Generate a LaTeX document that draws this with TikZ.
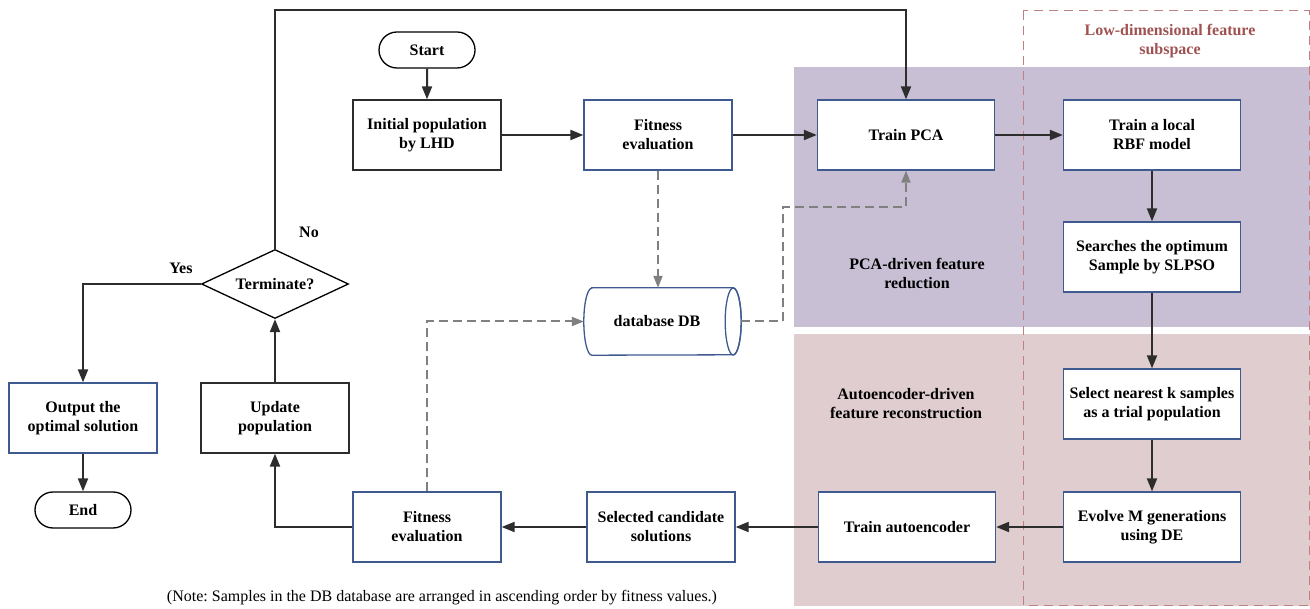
\documentclass[tikz,border=0pt]{standalone}
\usepackage{fontspec}
\setmainfont{Liberation Serif}
\usetikzlibrary{arrows.meta,shapes.geometric,shapes.misc}
\definecolor{pcabg}{RGB}{200,191,212}
\definecolor{aebg}{RGB}{224,205,208}
\definecolor{boxblue}{RGB}{62,90,142}
\definecolor{lowred}{RGB}{190,128,128}
\definecolor{lowtext}{RGB}{160,82,82}
\definecolor{lnk}{RGB}{45,45,45}
\definecolor{dashgray}{RGB}{128,128,128}
\frenchspacing
\begin{document}
\begin{tikzpicture}[x=1pt,y=-1pt,
  font=\bfseries\fontsize{16}{19}\selectfont,
  box/.style={draw=boxblue, line width=1.3pt, fill=white, minimum width=148pt, minimum height=70pt, inner sep=0pt, align=center},
  kbox/.style={box, draw=lnk},
  wbox/.style={box, minimum width=177pt},
  termbox/.style={rounded rectangle, draw=black, line width=1.3pt, fill=white, minimum width=96pt, minimum height=36pt, inner sep=0pt},
  arr/.style={draw=lnk, line width=2pt, -{Triangle[length=13pt,width=10pt]}},
  dsh/.style={draw=dashgray, line width=2pt, dash pattern=on 9pt off 5pt, -{Triangle[length=12pt,width=9pt]}},
  lbl/.style={align=center}]
\useasboundingbox (0,0) rectangle (1310,609);
% regions
\fill[pcabg] (794,67) rectangle (1310,327);
\fill[aebg] (794,334) rectangle (1310,606);
\draw[lowred, line width=1pt, dash pattern=on 9pt off 6pt] (1023,11) rectangle (1309,605);
\node[lbl, text=lowtext] (lowlbl) at (1170,41) {Low-dimensional feature\\subspace};
\node[lbl] (pcalbl) at (917,273) {PCA-driven feature\\reduction};
\node[lbl] (aelbl) at (906,404) {Autoencoder-driven\\feature reconstruction};
% nodes
\node[termbox] (start) at (427,50) {Start};
\node[kbox] (init) at (427,135) {Initial population\\by LHD};
\node[box] (fit1) at (658,135) {Fitness\\evaluation};
\node[wbox] (pca) at (906,135) {Train PCA};
\node[wbox] (rbf) at (1152,135) {Train a local\\RBF model};
\node[wbox] (slpso) at (1152,257) {Searches the optimum\\Sample by SLPSO};
\node[wbox] (knear) at (1152,404) {Select nearest k samples\\as a trial population};
\node[wbox] (de) at (1152,527) {Evolve M generations\\using DE};
\node[wbox] (ae) at (907,527) {Train autoencoder};
\node[box] (cand) at (661,527) {Selected candidate\\solutions};
\node[box] (fit2) at (427,527) {Fitness\\evaluation};
\node[kbox] (upd) at (275,418) {Update\\population};
\node[diamond, draw=black, line width=1.3pt, fill=white, minimum width=147pt, minimum height=69pt, aspect=2.13, inner sep=0pt] (termq) at (275,284) {Terminate?};
\node[box] (out) at (83,418) {Output the\\optimal solution};
\node[termbox] (endn) at (83,510) {End};
% database
\node[minimum width=157pt, minimum height=67pt, inner sep=0pt] (db) at (662.5,321.5) {};
\draw[boxblue, line width=1.3pt] ([xshift=8pt]db.north west) -- ([xshift=-8pt]db.north east)
  arc[start angle=90, end angle=-90, x radius=8pt, y radius=33.5pt]
  -- ([xshift=8pt]db.south west)
  arc[start angle=270, end angle=90, x radius=8pt, y radius=33.5pt] -- cycle;
\draw[boxblue, line width=1.3pt] ([xshift=-8pt]db.east) ellipse[x radius=8pt, y radius=33.5pt];
\node (dbtext) at (657,321.5) {database DB};
% labels
\node (nolbl) at (309,232) {No};
\node (yeslbl) at (181,268) {Yes};
\node[font=\fontsize{16}{19}\selectfont] (note) at (442,598) {(Note: Samples in the DB database are arranged in ascending order by fitness values.)};
% connectors
\coordinate (loopR) at (906,10);
\coordinate (dbturn) at (783,207);
\draw[arr] (start) -- (init);
\draw[arr] (init) -- (fit1);
\draw[arr] (fit1) -- (pca);
\draw[arr] (pca) -- (rbf);
\draw[arr] (rbf) -- (slpso);
\draw[arr] (slpso) -- (knear);
\draw[arr] (knear) -- (de);
\draw[arr] (de) -- (ae);
\draw[arr] (ae) -- (cand);
\draw[arr] (cand) -- (fit2);
\draw[arr] (fit2.west) -| (upd.south);
\draw[arr] (upd) -- (termq);
\draw[arr] (termq.north) |- (loopR) -- (pca.north);
\draw[arr] (termq.west) -| (out.north);
\draw[arr] (out) -- (endn);
\draw[dsh] (fit1.south) -- (fit1.south |- db.north);
\draw[dsh] (fit2.north) |- (db.west);
\draw[dsh] (db.east) -| (dbturn) -| (pca.south);
\end{tikzpicture}
\end{document}
